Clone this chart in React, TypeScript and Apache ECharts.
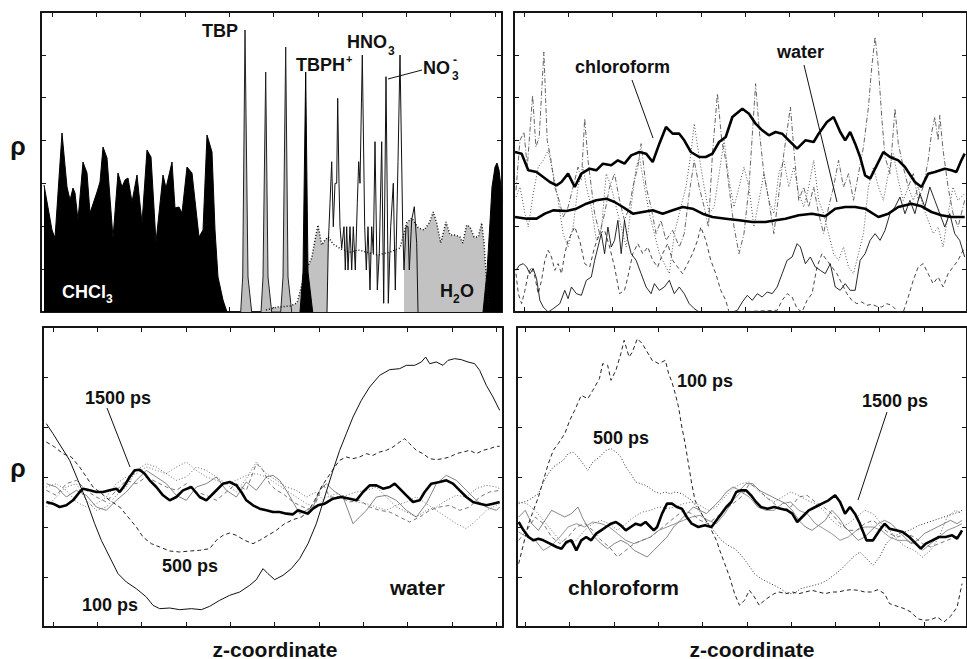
import React, { useEffect, useRef } from "react";
import * as echarts from "echarts";

type P = [number, number];

// ---------- Top-left panel: species density profiles (z offset, rho) ----------
const tlChcl3: P[] = [[3,127],[11,82],[14,74],[21,179],[26,125],[29,112],[32,124],[34,119],[37,92],[42,150],[46,139],[49,99],[56,120],[59,130],[62,165],[66,154],[72,74],[77,139],[81,125],[84,132],[87,134],[91,110],[96,137],[101,89],[106,162],[110,155],[115,70],[122,137],[125,124],[131,150],[134,104],[138,105],[141,99],[146,145],[151,139],[158,75],[162,82],[166,177],[171,160],[174,82],[177,35],[182,12],[186,0]];
const tlChcl3Right: P[] = [[442,0],[446,40],[449,90],[451,125],[454,145],[456,149],[458,142],[460,125],[461,110]];
const tlTbp: P[] = [[199.7,0],[201.7,35],[204,282],[207,35],[210.7,0],[220,0],[222,35],[224.7,240],[227,35],[230.7,0],[239.7,0],[242,35],[244.7,265],[247,35],[250.7,0]];
const tlTbph: P[] = [[259,0],[262,40],[264.7,240],[267,40],[271.7,0]];
const tlWater: P[] = [[225,2],[237,5],[249,6],[256,9],[259,20],[264,40],[270.7,54],[274,72],[277,87],[280.7,67],[284,72],[287.3,75],[292,68],[300,63],[309,60],[317,62],[337,57],[349,60],[359,64],[365.7,89],[370.7,94],[377.3,84],[383,82],[388.3,89],[392.3,100],[395.7,89],[399.7,69],[405,90],[409,77],[414,77],[419,75],[421.7,69],[425.7,87],[429,85],[433,75],[437.3,75],[440.7,89],[443,69],[445,39],[447.3,12],[449,2]];
const tlHno3: P[] = [[286,0],[287.3,68.7],[289,108.7],[290.7,150.3],[292.3,85.3],[294,128.7],[295.7,128.7],[296.7,213.7],[298,128.7],[299,85.3],[300.7,63.7],[303,85.3],[304.3,42],[305.7,85.3],[307,42],[309,85.3],[310.7,42],[312.3,85.3],[314.3,42],[316.3,108.7],[317.7,150.3],[319,128.7],[321.3,257],[323.7,85.3],[325.3,42],[327,85.3],[329,22],[330.7,85.3],[332.3,58.7],[334,170.3],[336.3,22],[338.3,58.7],[340.7,170.3],[342.7,8.7],[345,235.3],[347.3,8.7],[349.7,85.3],[352.3,128.7],[354.3,22],[357,150.3],[359,257],[361.7,85.3],[363,42]];
const tlHno3Tail: P[] = [[363,42],[365,85.3],[367,85.3],[368.3,42],[370.7,92],[373.3,105.3],[375.7,68.7],[377,0]];

// ---------- Top-right panel ----------
const trChloroform: P[] = [[3,480],[23,475],[43,425],[68,420],[88,405],[108,390],[128,380],[143,390],[163,415],[183,375],[203,415],[228,430],[248,425],[268,445],[293,440],[313,455],[333,445],[353,470],[378,480],[398,475],[418,450],[438,505],[458,555],[478,535],[498,535],[513,515],[533,480],[558,465],[578,465],[598,475],[618,510],[638,525],[658,585],[688,610],[708,595],[728,565],[748,545],[768,530],[788,540],[808,535],[828,515],[853,490],[878,515],[903,510],[918,535],[943,570],[963,585],[983,540],[998,515],[1013,540],[1028,505],[1043,465],[1058,410],[1073,400],[1093,440],[1113,480],[1133,465],[1158,455],[1178,435],[1208,390],[1228,375],[1248,415],[1268,420],[1298,430],[1318,425],[1333,420],[1348,455],[1358,475]];
const trWater: P[] = [[3,285],[38,280],[68,280],[93,295],[118,305],[158,303],[188,310],[218,325],[248,335],[278,340],[303,330],[328,315],[358,295],[388,300],[418,305],[448,295],[478,305],[508,315],[538,310],[568,295],[598,285],[638,280],[678,275],[718,270],[758,270],[788,275],[818,280],[858,290],[898,295],[938,287],[968,310],[998,315],[1028,315],[1058,310],[1098,285],[1128,295],[1158,315],[1198,325],[1228,317],[1258,300],[1288,290],[1318,285],[1358,285]];
const trSpiky: P[] = [[6,365],[18,515],[30,540],[40,435],[56,650],[66,495],[76,525],[90,780],[100,515],[110,465],[123,375],[136,335],[148,285],[163,315],[178,375],[193,435],[203,395],[213,580],[223,455],[233,375],[243,295],[258,235],[273,295],[288,375],[303,415],[318,335],[333,275],[348,315],[358,375],[373,435],[383,505],[398,375],[413,315],[428,235],[443,275],[458,215],[478,245],[498,195],[513,235],[528,355],[543,455],[558,375],[573,315],[586,255],[598,475],[613,655],[626,515],[638,455],[648,375],[663,255],[678,175],[693,235],[708,375],[728,685],[740,535],[753,415],[768,335],[783,235],[798,355],[813,475],[833,615],[846,455],[858,335],[873,375],[888,315],[903,375],[918,295],[933,235],[948,315],[963,375],[978,455],[993,375],[1008,415],[1023,335],[1038,415],[1053,495],[1068,615],[1078,735],[1088,825],[1098,735],[1108,585],[1118,465],[1133,415],[1148,610],[1158,505],[1173,435],[1188,375],[1203,415],[1218,335],[1233,375],[1248,455],[1258,535],[1268,585],[1278,515],[1283,590],[1293,485],[1308,375],[1323,295],[1338,255],[1358,335]];
const trDotted: P[] = [[6,345],[18,375],[33,295],[43,255],[58,355],[73,435],[88,455],[103,485],[118,415],[133,335],[148,235],[163,195],[178,255],[193,375],[208,435],[218,375],[233,315],[248,215],[263,245],[278,415],[293,375],[308,315],[323,255],[338,195],[353,315],[368,435],[378,465],[393,375],[408,295],[423,235],[438,175],[453,145],[468,115],[483,235],[498,295],[518,375],[533,475],[543,565],[558,465],[573,375],[588,295],[603,315],[618,415],[633,515],[648,395],[663,315],[678,375],[693,435],[708,375],[723,255],[738,335],[753,415],[768,335],[783,295],[798,415],[813,455],[828,375],[843,435],[858,355],[873,315],[888,375],[903,455],[918,335],[933,295],[948,235],[963,175],[978,155],[993,195],[1008,135],[1023,115],[1038,175],[1053,235],[1068,375],[1083,435],[1098,375],[1113,335],[1128,415],[1143,475],[1158,395],[1173,335],[1188,375],[1203,335],[1218,375],[1233,315],[1248,275],[1263,235],[1278,255],[1293,195],[1308,295],[1323,375],[1338,335],[1358,355]];
const trSolid: P[] = [[6,125],[16,140],[28,145],[38,135],[48,115],[58,130],[68,100],[78,35],[88,15],[103,0],[118,10],[138,25],[153,65],[163,40],[173,75],[188,55],[203,50],[218,95],[233,105],[243,155],[253,195],[263,235],[273,175],[283,255],[293,195],[303,215],[313,275],[323,175],[333,275],[343,215],[353,175],[368,155],[383,115],[398,75],[413,55],[423,85],[438,65],[453,75],[468,95],[483,55],[498,75],[513,55],[528,25],[543,10],[558,0],[658,0],[673,5],[688,30],[703,50],[718,35],[733,55],[748,45],[763,60],[778,55],[793,75],[808,115],[823,155],[838,165],[853,205],[863,195],[878,145],[893,165],[908,135],[923,125],[938,115],[953,145],[968,75],[983,65],[998,85],[1013,65],[1028,65],[1043,155],[1058,175],[1073,215],[1088,235],[1103,215],[1118,245],[1133,295],[1148,315],[1163,345],[1178,295],[1193,335],[1208,295],[1223,355],[1238,315],[1253,375],[1268,335],[1283,295],[1298,255],[1313,295],[1328,235],[1343,215],[1358,165]];
const trDashed: P[] = [[6,115],[13,55],[23,25],[33,65],[43,115],[53,135],[63,105],[73,55],[83,95],[93,155],[103,185],[113,165],[123,125],[133,145],[143,115],[153,175],[163,215],[173,235],[183,255],[198,215],[213,145],[228,135],[243,195],[258,235],[273,245],[288,195],[303,135],[318,55],[333,65],[343,105],[358,175],[373,205],[388,175],[403,195],[418,155],[433,135],[448,175],[463,205],[478,155],[493,135],[508,115],[523,145],[538,175],[553,215],[563,255],[578,215],[593,155],[608,115],[623,65],[638,35],[648,0],[793,5],[808,35],[823,55],[838,45],[853,10],[868,0],[883,35],[898,55],[913,135],[928,175],[943,155],[958,135],[973,115],[988,85],[1003,55],[1018,35],[1033,25],[1048,30],[1063,20],[1078,23],[1093,17],[1108,15],[1123,25],[1138,20],[1158,0],[1173,0],[1188,45],[1203,95],[1218,135],[1233,145],[1248,115],[1263,85],[1278,105],[1293,75],[1308,115],[1323,135],[1338,155],[1358,195]];

// ---------- Bottom-left panel: water profiles ----------
const bl100: P[] = [[10,610],[30,580],[55,540],[80,500],[105,440],[130,380],[155,310],[175,260],[200,210],[225,160],[250,135],[280,115],[310,90],[330,65],[350,55],[380,57],[410,52],[445,55],[475,52],[500,62],[530,80],[560,95],[590,105],[620,125],[640,142],[660,175],[675,160],[695,142],[720,155],[745,175],[770,205],[795,250],[820,310],[845,390],[870,470],[890,530],[910,580],[930,630],[955,680],[980,720],[1010,755],[1040,772],[1070,775],[1090,785],[1115,785],[1135,795],[1148,810],[1160,790],[1180,795],[1200,785],[1215,800],[1235,805],[1255,802],[1275,795],[1295,790],[1310,770],[1330,725],[1350,690],[1370,650]];
const bl500: P[] = [[10,555],[35,540],[60,520],[85,510],[110,480],[130,450],[150,420],[170,405],[200,380],[230,360],[255,330],[280,300],[300,270],[325,250],[350,240],[380,228],[410,225],[440,228],[470,230],[500,235],[520,260],[540,275],[560,282],[580,275],[605,260],[630,250],[650,260],[675,275],[700,290],[725,310],[750,322],[775,330],[795,345],[815,380],[835,420],[855,450],[875,480],[890,500],[910,510],[930,505],[950,510],[970,520],[990,515],[1010,525],[1030,530],[1050,540],[1070,555],[1085,565],[1100,550],[1120,530],[1140,520],[1160,505],[1180,502],[1200,505],[1220,510],[1240,520],[1260,525],[1280,530],[1300,520],[1320,530],[1340,535],[1360,542],[1370,542]];
const bl1500: P[] = [[10,375],[30,370],[50,360],[70,365],[90,380],[110,405],[120,415],[140,410],[160,405],[180,405],[200,410],[220,415],[230,405],[245,425],[260,450],[275,470],[290,472],[305,460],[320,440],[340,420],[360,395],[380,380],[400,390],[420,410],[445,420],[470,390],[490,380],[515,405],[540,430],[560,435],[580,425],[595,405],[610,380],[630,365],[650,355],[670,350],[690,345],[710,345],[730,340],[750,338],[765,350],[780,345],[795,340],[810,355],[825,365],[845,370],[870,385],[895,390],[920,385],[940,380],[960,405],[980,425],[1000,425],[1020,415],[1040,420],[1055,430],[1070,415],[1090,395],[1110,375],[1130,380],[1145,405],[1165,430],[1190,435],[1210,440],[1230,430],[1250,410],[1270,390],[1290,375],[1310,370],[1330,365],[1350,370],[1370,375]];
const blThinA: P[] = [[10,420],[40,430],[70,410],[100,375],[130,360],[160,370],[190,390],[220,430],[250,450],[280,460],[310,480],[340,470],[370,460],[400,480],[430,495],[460,470],[490,450],[520,440],[550,430],[580,440],[610,455],[640,460],[670,450],[700,430],[730,410],[760,390],[790,370],[820,360],[850,390],[880,400],[910,390],[940,375],[970,370],[1000,360],[1030,350],[1060,365],[1090,375],[1120,390],[1150,370],[1180,350],[1210,330],[1240,310],[1270,295],[1300,320],[1330,350],[1360,365],[1370,370]];
const blThinB: P[] = [[10,410],[40,395],[70,430],[100,440],[130,410],[160,390],[190,375],[220,410],[250,440],[280,430],[310,450],[340,435],[370,420],[400,410],[430,430],[460,405],[490,395],[520,380],[550,405],[580,430],[610,410],[640,490],[660,470],[680,430],[700,410],[720,400],[750,375],[780,360],[810,350],[840,430],[860,390],[890,390],[920,375],[950,380],[980,360],[1010,350],[1040,345],[1070,330],[1100,315],[1130,330],[1160,350],[1190,360],[1220,365],[1250,350],[1280,360],[1310,390],[1340,405],[1370,410]];
const blThinC: P[] = [[10,430],[40,420],[70,390],[100,410],[130,395],[160,360],[190,350],[220,380],[250,405],[280,440],[310,470],[340,450],[370,430],[400,395],[430,380],[460,420],[490,430],[520,450],[550,410],[580,390],[610,435],[640,410],[670,450],[690,455],[710,440],[730,410],[750,375],[770,340],[790,350],[810,360],[830,410],[850,430],[870,410],[900,390],[930,310],[950,330],[970,350],[1000,390],[1030,395],[1060,380],[1090,350],[1120,330],[1150,370],[1180,430],[1210,455],[1240,440],[1270,410],[1300,380],[1330,360],[1360,350],[1370,360]];
const blThinD: P[] = [[10,360],[40,390],[70,420],[100,430],[130,380],[160,350],[190,360],[220,395],[250,420],[280,470],[310,490],[340,480],[370,460],[400,440],[430,450],[460,480],[490,470],[520,450],[550,430],[580,405],[610,445],[640,495],[670,460],[700,440],[730,420],[760,410],[790,390],[820,405],[850,370],[880,390],[910,395],[940,405],[970,410],[1000,420],[1030,390],[1060,360],[1090,345],[1120,330],[1150,350],[1180,360],[1210,380],[1240,395],[1270,390],[1300,415],[1330,425],[1360,420],[1370,415]];

// ---------- Bottom-right panel: chloroform profiles ----------
const br100: P[] = [[5,190],[20,250],[35,310],[50,350],[65,390],[80,440],[95,490],[110,530],[125,550],[145,580],[160,620],[175,650],[195,695],[215,685],[230,710],[250,745],[260,790],[275,785],[285,740],[300,770],[315,820],[325,860],[340,810],[350,825],[365,865],[380,850],[395,825],[410,800],[430,790],[450,800],[460,760],[470,735],[480,700],[490,660],[500,600],[510,550],[520,490],[530,430],[540,380],[555,350],[565,330],[580,310],[590,290],[605,260],[615,230],[630,190],[645,150],[660,100],[675,65],[690,80],[705,110],[720,90],[735,65],[750,80],[765,90],[780,100],[795,105],[815,100],[835,105],[855,100],[875,105],[895,110],[915,105],[935,100],[955,105],[975,105],[995,110],[1015,112],[1035,110],[1055,105],[1075,105],[1095,112],[1115,100],[1130,70],[1145,65],[1160,60],[1175,55],[1195,45],[1215,25],[1235,20],[1255,22],[1275,30],[1295,15],[1315,32],[1335,60],[1350,130]];
const br500: P[] = [[5,370],[20,375],[35,380],[50,390],[65,400],[80,435],[95,460],[110,480],[125,490],[140,500],[155,520],[170,525],[185,510],[200,490],[215,470],[230,495],[250,510],[270,530],[285,535],[300,525],[315,510],[330,480],[345,460],[360,435],[375,430],[390,425],[405,415],[420,405],[435,400],[450,405],[465,400],[480,405],[500,400],[515,390],[530,380],[545,360],[560,340],[580,310],[600,285],[620,260],[640,245],[660,235],[680,215],[700,190],[720,160],[740,145],[760,135],[780,125],[800,115],[820,100],[840,100],[860,115],[880,120],[900,125],[920,130],[940,140],[960,155],[980,170],[1000,190],[1020,210],[1040,225],[1060,205],[1080,185],[1100,210],[1120,250],[1140,270],[1160,280],[1190,290],[1220,305],[1250,315],[1280,325],[1310,335],[1340,345],[1350,350]];
const br1500: P[] = [[5,315],[20,290],[35,270],[50,260],[65,265],[80,260],[100,250],[120,240],[135,235],[150,255],[165,260],[180,230],[195,260],[210,270],[225,260],[240,280],[255,290],[270,300],[285,310],[300,315],[315,305],[330,290],[345,300],[360,310],[375,305],[390,315],[405,300],[415,290],[425,300],[440,340],[455,370],[470,370],[485,360],[500,355],[515,330],[530,310],[550,300],[570,305],[590,300],[605,320],[620,340],[635,360],[650,375],[665,405],[680,410],[695,410],[710,395],[725,375],[740,360],[760,355],[780,360],[800,355],[820,350],[835,340],[850,315],[865,330],[885,350],[905,360],[925,370],[945,380],[965,395],[980,375],[995,340],[1010,360],[1025,340],[1040,310],[1060,260],[1080,260],[1100,290],[1115,310],[1130,295],[1150,290],[1170,285],[1190,270],[1210,250],[1225,235],[1240,250],[1260,260],[1280,270],[1300,270],[1320,275],[1335,265],[1350,290]];
const brThinA: P[] = [[5,330],[25,350],[45,310],[65,290],[85,320],[105,350],[125,340],[145,330],[165,340],[185,360],[200,325],[215,300],[235,270],[255,250],[275,235],[295,250],[315,260],[335,250],[355,230],[375,220],[395,210],[415,230],[435,250],[455,270],[475,300],[495,320],[515,340],[535,360],[555,350],[575,340],[595,360],[615,380],[635,405],[655,420],[675,410],[695,430],[715,430],[735,410],[755,400],[775,390],[795,380],[815,370],[835,350],[855,320],[875,300],[895,290],[915,305],[935,320],[955,350],[975,330],[995,300],[1015,280],[1035,260],[1055,270],[1075,290],[1095,310],[1115,320],[1135,310],[1155,290],[1175,270],[1195,250],[1215,260],[1235,280],[1255,290],[1275,300],[1295,310],[1315,320],[1335,310],[1350,320]];
const brThinB: P[] = [[5,375],[30,370],[55,350],[80,320],[105,290],[130,260],[155,250],[180,260],[205,290],[230,310],[255,320],[280,310],[305,290],[330,310],[355,330],[380,345],[405,350],[430,360],[455,355],[480,360],[505,370],[530,375],[555,365],[580,350],[605,360],[630,390],[655,415],[680,430],[705,435],[730,410],[755,390],[780,375],[805,390],[830,405],[855,395],[880,380],[905,370],[930,350],[955,320],[980,300],[1005,310],[1030,330],[1055,350],[1080,340],[1105,310],[1130,290],[1155,260],[1180,240],[1205,230],[1230,210],[1255,230],[1280,270],[1305,330],[1330,350],[1350,340]];
const brThinC: P[] = [[5,260],[30,290],[55,330],[80,310],[105,270],[130,250],[155,270],[180,300],[205,310],[230,290],[255,260],[280,240],[305,210],[330,230],[355,250],[380,260],[405,270],[430,290],[455,310],[480,330],[505,350],[530,340],[555,320],[580,310],[605,330],[630,350],[655,370],[680,390],[705,430],[730,415],[755,390],[780,370],[805,350],[830,360],[855,390],[880,395],[905,375],[930,360],[955,340],[980,310],[1005,290],[1030,290],[1055,310],[1080,320],[1105,300],[1130,280],[1155,270],[1180,280],[1205,270],[1230,250],[1255,240],[1280,250],[1305,260],[1330,270],[1350,280]];
const brThinD: P[] = [[5,285],[30,270],[55,260],[80,230],[105,245],[130,270],[155,300],[180,310],[205,300],[230,315],[255,310],[280,300],[305,280],[330,260],[355,250],[380,260],[405,270],[430,290],[455,300],[480,310],[505,320],[530,330],[555,335],[580,320],[605,310],[630,340],[655,380],[680,405],[705,390],[730,360],[755,350],[780,350],[805,370],[830,375],[855,350],[880,340],[905,310],[930,295],[955,280],[980,260],[1005,270],[1030,290],[1055,300],[1080,300],[1105,290],[1130,270],[1155,260],[1180,260],[1205,250],[1230,230],[1255,250],[1280,270],[1305,290],[1330,300],[1350,310]];

// ---------- Tick positions (axis units) ----------
const tlXTicks = [11, 55.3, 99.6, 143.9, 188.2, 232.5, 276.8, 321.1, 365.4, 409.7, 454];
const tlYTicks = [42.86, 85.71, 128.57, 171.43, 214.29, 257.14];
const trXTicks = [29.5, 163, 296.5, 430, 563.5, 697, 830.5, 964, 1097.5, 1231];
const trYTicks = [128.57, 257.14, 385.71, 514.29, 642.86, 771.43];
const blXTicks = [30, 163, 296, 429, 562, 695, 828, 961, 1094, 1227, 1360];
const brXTicks = [26, 160, 295, 429, 563, 698, 832, 966, 1100, 1235];
const bYTicks = [150, 300, 450, 600, 750];

const FONT = '"Liberation Sans", Arial, Helvetica, sans-serif';

const panels = [
  { left: 41, top: 12, width: 461, height: 300, xMax: 461, yMax: 300, xTicks: tlXTicks, yTicks: tlYTicks, xInt: 44.3, yInt: 300 / 7 },
  { left: 514, top: 12, width: 455, height: 300, xMax: 1365, yMax: 900, xTicks: trXTicks, yTicks: trYTicks, xInt: 133.5, yInt: 900 / 7 },
  { left: 43, top: 327, width: 460, height: 300, xMax: 1380, yMax: 900, xTicks: blXTicks, yTicks: bYTicks, xInt: 133, yInt: 150 },
  { left: 517, top: 327, width: 455, height: 300, xMax: 1365, yMax: 900, xTicks: brXTicks, yTicks: bYTicks, xInt: 134.3, yInt: 150 },
];

function axisStyle(ticks: number[]) {
  return {
    axisLine: { show: true, onZero: false, lineStyle: { color: "#151515", width: 2 } },
    axisTick: { show: true, inside: true, length: 5, lineStyle: { color: "#151515", width: 1 }, customValues: ticks },
    axisLabel: { show: false },
    splitLine: { show: false },
  };
}

function ln(data: P[], g: number, color: string, width: number, type: any, extra: any = {}) {
  return {
    type: "line",
    data,
    xAxisIndex: 2 * g,
    yAxisIndex: 2 * g,
    symbol: "none",
    silent: true,
    lineStyle: { color, width, type },
    ...extra,
  };
}

const DOT: number[] = [1, 2];
const DASH: number[] = [4, 3];
const DASHDOT: number[] = [5, 2, 1, 2];

function txt(x: number, y: number, text: string, size: number, extra: any = {}) {
  return {
    type: "text",
    x,
    y,
    z: 100,
    silent: true,
    style: {
      text,
      font: `bold ${size}px ${FONT}`,
      fill: "#111",
      align: "left",
      verticalAlign: "middle",
      ...extra,
    },
  };
}

function lead(x1: number, y1: number, x2: number, y2: number) {
  return { type: "line", z: 100, silent: true, shape: { x1, y1, x2, y2 }, style: { stroke: "#111", lineWidth: 1 } };
}

export default function App() {
  const ref = useRef<HTMLDivElement>(null);

  useEffect(() => {
    document.body.style.margin = "0";
    if (!ref.current) return;
    const chart = echarts.init(ref.current, undefined, { renderer: "svg" });

    const grid = panels.map((p) => ({ left: p.left, top: p.top, width: p.width, height: p.height, containLabel: false }));
    const xAxis = panels.flatMap((p, g) => [
      { type: "value", gridIndex: g, min: 0, max: p.xMax, interval: p.xInt, position: "bottom", ...axisStyle(p.xTicks) },
      { type: "value", gridIndex: g, min: 0, max: p.xMax, interval: p.xInt, position: "top", ...axisStyle(p.xTicks) },
    ]);
    const yAxis = panels.flatMap((p, g) => [
      { type: "value", gridIndex: g, min: 0, max: p.yMax, interval: p.yInt, position: "left", ...axisStyle(p.yTicks) },
      { type: "value", gridIndex: g, min: 0, max: p.yMax, interval: p.yInt, position: "right", ...axisStyle(p.yTicks) },
    ]);

    const series: any[] = [
      // top-left
      ln(tlWater, 0, "#111", 1.5, DOT, { areaStyle: { color: "#c2c2c2", opacity: 1 } }),
      ln(tlHno3, 0, "#111", 1, "solid", { areaStyle: { color: "#ffffff", opacity: 1 } }),
      ln(tlHno3Tail, 0, "#111", 1, "solid"),
      ln(tlTbp, 0, "#222", 1, "solid", { areaStyle: { color: "#bdbdbd", opacity: 1 } }),
      ln(tlTbph, 0, "#000", 1, "solid", { areaStyle: { color: "#000", opacity: 1 } }),
      ln(tlChcl3, 0, "#000", 1, "solid", { areaStyle: { color: "#000", opacity: 1 } }),
      ln(tlChcl3Right, 0, "#000", 1, "solid", { areaStyle: { color: "#000", opacity: 1 } }),
      // top-right
      ln(trSpiky, 1, "#555", 0.9, DASHDOT),
      ln(trDotted, 1, "#444", 0.9, DOT),
      ln(trDashed, 1, "#333", 0.9, DASH),
      ln(trSolid, 1, "#111", 0.9, "solid"),
      ln(trWater, 1, "#000", 2.6, "solid"),
      ln(trChloroform, 1, "#000", 2.6, "solid"),
      // bottom-left
      ln(blThinA, 2, "#555", 0.8, DOT),
      ln(blThinB, 2, "#555", 0.8, DASH),
      ln(blThinC, 2, "#666", 0.8, "solid"),
      ln(blThinD, 2, "#444", 0.8, DOT),
      ln(bl500, 2, "#222", 1, DASH),
      ln(bl100, 2, "#111", 1, "solid"),
      ln(bl1500, 2, "#000", 2.6, "solid"),
      // bottom-right
      ln(brThinA, 3, "#666", 0.8, "solid"),
      ln(brThinB, 3, "#444", 0.8, DOT),
      ln(brThinC, 3, "#555", 0.8, DASH),
      ln(brThinD, 3, "#777", 0.8, "solid"),
      ln(br500, 3, "#333", 1, DOT),
      ln(br100, 3, "#222", 1, DASH),
      ln(br1500, 3, "#000", 2.6, "solid"),
    ];

    const graphic: any[] = [
      // axis titles
      txt(18, 146, "ρ", 25, { align: "center" }),
      txt(18, 468, "ρ", 25, { align: "center" }),
      txt(275, 649, "z-coordinate", 21, { align: "center" }),
      txt(752, 649, "z-coordinate", 21, { align: "center" }),
      // top-left labels
      txt(62, 292, "CHCl", 18, { fill: "#fff" }),
      txt(106, 299, "3", 12, { fill: "#fff" }),
      txt(440, 291, "H", 18),
      txt(453, 299, "2", 12),
      txt(460, 291, "O", 18),
      txt(202, 31, "TBP", 18),
      txt(296, 65, "TBPH", 18),
      txt(346, 59, "+", 11),
      txt(347, 42, "HNO", 18),
      txt(388, 51, "3", 12),
      txt(423, 68, "NO", 18),
      txt(452, 76, "3", 12),
      txt(453, 60, "-", 12),
      lead(388, 79, 422, 70),
      // top-right labels
      txt(575, 67, "chloroform", 18),
      lead(632, 80, 653, 138),
      txt(777, 52, "water", 18),
      lead(804, 65, 837, 202),
      // bottom-left labels
      txt(85, 398, "1500 ps", 18),
      lead(107, 408, 130, 467),
      txt(162, 566, "500 ps", 18),
      txt(82, 605, "100 ps", 18),
      txt(390, 587, "water", 21),
      // bottom-right labels
      txt(677, 381, "100 ps", 18),
      txt(593, 438, "500 ps", 18),
      txt(862, 401, "1500 ps", 18),
      lead(887, 412, 858, 500),
      txt(568, 587, "chloroform", 21),
    ];

    chart.setOption({
      animation: false,
      backgroundColor: "#ffffff",
      grid,
      xAxis,
      yAxis,
      series,
      graphic,
    });

    return () => {
      chart.dispose();
    };
  }, []);

  return <div ref={ref} style={{ width: 967, height: 659 }} />;
}
